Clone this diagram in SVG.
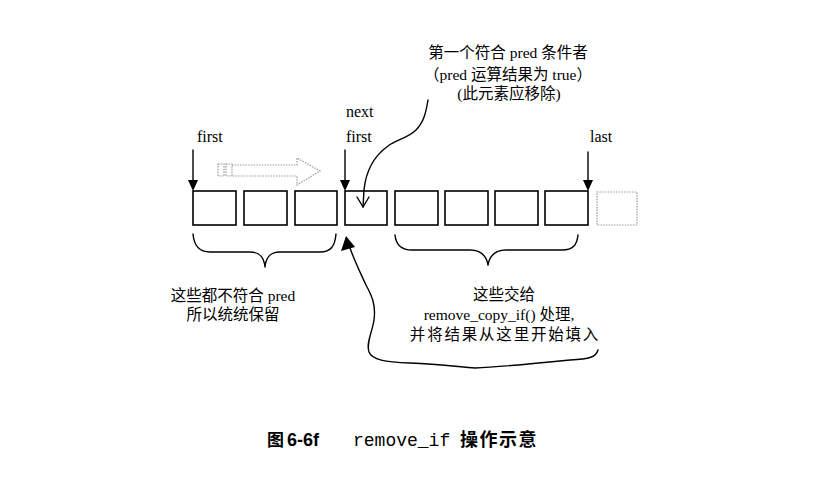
<svg xmlns="http://www.w3.org/2000/svg" width="830" height="480" viewBox="0 0 830 480">
<style>
.t{font-family:"Liberation Serif","Noto Sans CJK SC",serif;font-size:16px;fill:#000}
.c{font-family:"Liberation Serif","Noto Sans CJK SC",serif;font-size:15.5px;fill:#000}
.box{fill:#fff;stroke:#000;stroke-width:1.6}
.ln{fill:none;stroke:#000;stroke-width:1.4;stroke-linecap:round;stroke-linejoin:round}
.dot{fill:none;stroke:#999;stroke-width:1.2;stroke-dasharray:1.5 1.2}
</style>
<rect width="830" height="480" fill="#fff"/>
<g id="nodes">
<g id="box1"><rect class="box" x="193" y="191" width="43" height="34"/></g>
<g id="box2"><rect class="box" x="244" y="191" width="43" height="34"/></g>
<g id="box3"><rect class="box" x="295" y="191" width="42" height="34"/></g>
<g id="box4"><rect class="box" x="345" y="191" width="42" height="34"/></g>
<g id="box5"><rect class="box" x="395" y="191" width="43" height="34"/></g>
<g id="box6"><rect class="box" x="445" y="191" width="43" height="34"/></g>
<g id="box7"><rect class="box" x="495" y="191" width="43" height="34"/></g>
<g id="box8"><rect class="box" x="545" y="191" width="43" height="34"/></g>
<g id="box9"><rect class="dot" x="597" y="192" width="40" height="33"/></g>
</g>
<g id="labels">
<text class="t" x="197" y="142">first</text>
<text class="t" x="346" y="117">next</text>
<text class="t" x="346" y="142">first</text>
<text class="t" x="590" y="142">last</text>
<text class="c" x="508" y="58" text-anchor="middle">第一个符合 pred 条件者</text>
<text class="c" x="508" y="80" text-anchor="middle">（pred 运算结果为 true）</text>
<text class="c" x="509" y="99" text-anchor="middle">(此元素应移除)</text>
<text class="c" x="233" y="301" text-anchor="middle">这些都不符合 pred</text>
<text class="c" x="233" y="320" text-anchor="middle">所以统统保留</text>
<text class="c" x="504" y="300" text-anchor="middle">这些交给</text>
<text class="c" x="499" y="320" text-anchor="middle">remove_copy_if() 处理,</text>
<text class="c" x="505" y="340" text-anchor="middle" letter-spacing="1.8">并将结果从这里开始填入</text>
</g>
<g id="connectors">
<line class="ln" x1="193" y1="150" x2="193" y2="181"/>
<polygon points="188,180 198,180 193,191" fill="#000"/>
<line class="ln" x1="345" y1="150" x2="345" y2="181"/>
<polygon points="340,180 350,180 345,191" fill="#000"/>
<line class="ln" x1="588" y1="152" x2="588" y2="181"/>
<polygon points="583,180 593,180 588,191" fill="#000"/>
<path class="ln" d="M428,100 C426,112 424,122 416,130 C408,138 396,140 388,146 C374,156 366,170 364,190 L363,207"/>
<path class="ln" d="M357,197 L363,207 L369,197"/>
<path class="dot" d="M232,165 L297,165 L297,158 L320,171 L297,185 L297,176 L232,176"/>
<rect class="dot" x="218" y="164" width="6" height="12"/>
<rect class="dot" x="226" y="164" width="6" height="12"/>
<path class="ln" d="M193,234 C194,246 199,252 210,252 L250,252 C259,252 264,256 265,267 C266,256 271,252 280,252 L320,252 C331,252 335,246 336,234"/>
<path class="ln" d="M395,235 C396,245 401,250 412,250 L470,250 C480,250 486,254 488,265 C490,254 496,250 506,250 L562,250 C573,250 577,245 578,235"/>
<path class="ln" d="M350,248 C355,262 360,272 366,285 C372,296 376,305 374,320 C372,333 366,343 369,352 C372,360 385,362 410,363 C440,364 460,367 475,368 C500,367 540,363 570,360 C590,359 596,357 598,350"/>
<polygon points="346,236 341,251 355,247" fill="#000"/>
</g>
<g id="caption">
<text x="267" y="446" font-family="'Noto Sans CJK SC',sans-serif" font-size="17" font-weight="bold">图</text>
<text x="287" y="446" font-family="'Liberation Sans',Arial,sans-serif" font-weight="bold" font-size="18">6-6f</text>
<text x="353" y="446" font-family="'Liberation Mono','Courier New',monospace" font-size="18">remove_if</text>
<text x="460" y="446" font-family="'Noto Sans CJK SC',sans-serif" font-size="18" font-weight="bold" letter-spacing="1.5">操作示意</text>
</g>
</svg>
